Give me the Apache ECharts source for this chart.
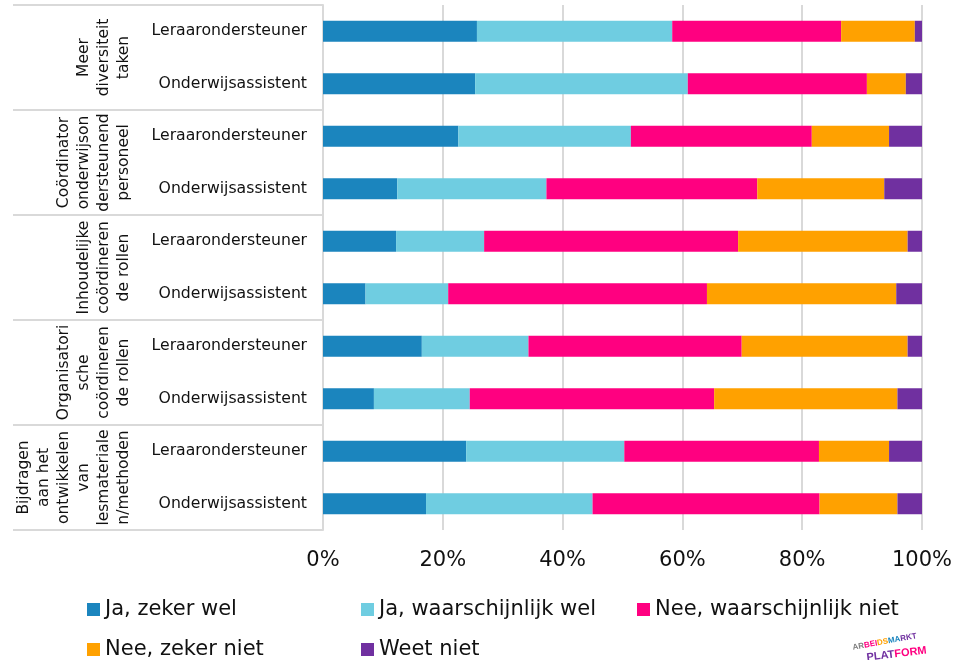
<!DOCTYPE html>
<html>
<head>
<meta charset="utf-8">
<script src="https://cdn.jsdelivr.net/npm/echarts@6/dist/echarts.min.js"></script>
<style>
  html, body { margin: 0; padding: 0; background: #fff; }
  #chart { width: 966px; height: 660px; }
</style>
</head>
<body>
<div id="chart"></div>
<script>
// ---- Data ----
const groups = [
  'Meer\ndiversiteit\ntaken',
  'Coördinator\nonderwijson\ndersteunend\npersoneel',
  'Inhoudelijke\ncoördineren\nde rollen',
  'Organisatori\nsche\ncoördineren\nde rollen',
  'Bijdragen\naan het\nontwikkelen\nvan\nlesmateriale\nn/methoden'
];
const roles = ['Leraarondersteuner', 'Onderwijsassistent'];
const seriesNames = ['Ja, zeker wel', 'Ja, waarschijnlijk wel', 'Nee, waarschijnlijk niet', 'Nee, zeker niet', 'Weet niet'];
const jaZekerWel            = [25.7, 25.4, 22.6, 12.4, 12.2, 7.1, 16.5, 8.5, 23.9, 17.2];
const jaWaarschijnlijkWel   = [32.6, 35.5, 28.8, 24.9, 14.7, 13.8, 17.8, 16.0, 26.4, 27.8];
const neeWaarschijnlijkNiet = [28.2, 29.9, 30.2, 35.2, 42.4, 43.2, 35.6, 40.8, 32.5, 37.9];
const neeZekerNiet          = [12.3, 6.5, 12.9, 21.2, 28.3, 31.6, 27.7, 30.6, 11.7, 13.0];
const weetNiet              = [1.2, 2.7, 5.5, 6.3, 2.4, 4.3, 2.4, 4.1, 5.5, 4.1];
const xTicks = [0, 20, 40, 60, 80, 100];

// ---- Build ----
const seriesValues = [jaZekerWel, jaWaarschijnlijkWel, neeWaarschijnlijkNiet, neeZekerNiet, weetNiet];
const colors = ['#1B85BE', '#6FCDE1', '#FF0080', '#FFA100', '#7030A0'];
const categories = [];
groups.forEach((g, gi) => roles.forEach(r => categories.push(gi + '|' + r)));

const FONT = 'DejaVu Sans';
const GRID_COLOR = '#d9d9d9';

// legend slots (column left, row top) in reading order of the reference
const legendSlots = [[87, 599], [361, 599], [637, 599], [87, 639], [361, 639]];

const chart = echarts.init(document.getElementById('chart'), null, { renderer: 'canvas' });

const option = {
  backgroundColor: '#ffffff',
  animation: false,
  textStyle: { fontFamily: FONT },
  grid: { left: 323, right: 44, top: 5, height: 525, containLabel: false, outerBoundsMode: 'none' },
  xAxis: {
    type: 'value',
    min: xTicks[0],
    max: xTicks[xTicks.length - 1],
    interval: 20,
    axisLine: { show: false },
    axisTick: { show: false },
    splitLine: { show: true, lineStyle: { color: GRID_COLOR, width: 2 } },
    axisLabel: {
      formatter: '{value}%',
      fontSize: 21,
      color: '#111',
      fontFamily: FONT,
      margin: 20
    }
  },
  yAxis: [
    {
      type: 'category',
      data: categories,
      inverse: true,
      axisLine: { show: true, lineStyle: { color: GRID_COLOR, width: 2 } },
      axisTick: { show: false },
      axisLabel: {
        interval: 0,
        fontSize: 15.7,
        color: '#111',
        fontFamily: FONT,
        margin: 16,
        formatter: v => v.split('|')[1]
      }
    },
    {
      type: 'category',
      data: groups,
      inverse: true,
      position: 'left',
      offset: 0,
      axisLine: { show: false },
      axisTick: { show: true, interval: 0, length: 310, lineStyle: { color: GRID_COLOR, width: 2 } },
      axisLabel: {
        interval: 0,
        rotate: 90,
        fontSize: 15.5,
        lineHeight: 20,
        color: '#111',
        fontFamily: FONT,
        margin: 189
      }
    }
  ],
  legend: seriesNames.map((name, i) => ({
    data: [name],
    orient: 'horizontal',
    left: legendSlots[i][0],
    top: legendSlots[i][1],
    padding: 0,
    itemWidth: 13, itemHeight: 13, icon: 'rect',
    textStyle: { fontSize: 21, color: '#111', fontFamily: FONT }
  })),
  graphic: [
    {
      type: 'text', left: 852, top: 632, rotation: 0.18,
      style: {
        text: '{a|AR}{b|BEI}{c|DS}{d|MA}{e|RKT}',
        rich: {
          a: { fill: '#7f7f7f', fontSize: 8, fontWeight: 'bold' },
          b: { fill: '#FF0080', fontSize: 8, fontWeight: 'bold' },
          c: { fill: '#FFA100', fontSize: 8, fontWeight: 'bold' },
          d: { fill: '#1B85BE', fontSize: 8, fontWeight: 'bold' },
          e: { fill: '#7030A0', fontSize: 8, fontWeight: 'bold' }
        }
      }
    },
    {
      type: 'text', left: 866, top: 645, rotation: 0.12,
      style: {
        text: '{a|PLAT}{b|FORM}',
        rich: {
          a: { fill: '#7030A0', fontSize: 11, fontWeight: 'bold' },
          b: { fill: '#FF0080', fontSize: 11, fontWeight: 'bold' }
        }
      }
    }
  ],
  series: seriesValues.map((vals, i) => ({
    name: seriesNames[i],
    type: 'bar',
    stack: 'total',
    yAxisIndex: 0,
    barWidth: '40%',
    itemStyle: { color: colors[i] },
    data: vals
  }))
};

chart.setOption(option);
</script>
</body>
</html>
